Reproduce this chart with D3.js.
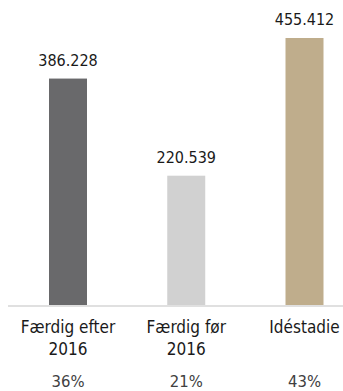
<!DOCTYPE html>
<html><head><meta charset="utf-8">
<script src="https://cdn.jsdelivr.net/npm/d3@7"></script>
<style>
html,body{margin:0;padding:0;background:#fff;}
svg{display:block;}
text{font-family:"DejaVu Sans Condensed","DejaVu Sans",sans-serif;font-stretch:condensed;}
</style></head>
<body>
<script>
const categories = [["Færdig efter","2016"],["Færdig før","2016"],["Idéstadie"]];
const values = [386.228, 220.539, 455.412];
const valueLabels = ["386.228","220.539","455.412"];
const shares = ["36%","21%","43%"];
const colors = ["#69696b","#d1d1d1","#bfad8c"];

const W = 343, H = 391;
const svg = d3.select("body").append("svg").attr("width", W).attr("height", H);

const x = d3.scalePoint().domain(d3.range(values.length)).range([68, 304.5]);
const y = d3.scaleLinear().domain([0, 455.412]).range([305, 38]);
const barW = 38;

svg.append("line").attr("x1", 8).attr("x2", 343).attr("y1", 306).attr("y2", 306)
  .attr("stroke", "#e0e0e0").attr("stroke-width", 2);

svg.selectAll("rect.bar").data(values).join("rect")
  .attr("class","bar")
  .attr("x", (d,i) => x(i) - barW/2)
  .attr("width", barW)
  .attr("y", d => y(d))
  .attr("height", d => y(0) - y(d))
  .attr("fill", (d,i) => colors[i]);

svg.selectAll("text.val").data(values).join("text")
  .attr("class","val")
  .attr("x", (d,i) => x(i))
  .attr("y", d => y(d) - 13)
  .attr("text-anchor","middle")
  .attr("font-size", 16)
  .attr("fill", "#1a1a1a")
  .text((d,i) => valueLabels[i]);

const cat = svg.selectAll("text.cat").data(categories).join("text")
  .attr("class","cat")
  .attr("text-anchor","middle")
  .attr("font-size", 17)
  .attr("fill", "#1a1a1a");
cat.selectAll("tspan").data((d,i) => d.map(s => ({s, i}))).join("tspan")
  .attr("x", d => x(d.i))
  .attr("y", (d,j) => 333 + j*22)
  .text(d => d.s);

svg.selectAll("text.pct").data(shares).join("text")
  .attr("class","pct")
  .attr("x", (d,i) => x(i))
  .attr("y", 387)
  .attr("text-anchor","middle")
  .attr("font-size", 16.5)
  .attr("fill", "#404040")
  .text(d => d);
</script>
</body></html>
